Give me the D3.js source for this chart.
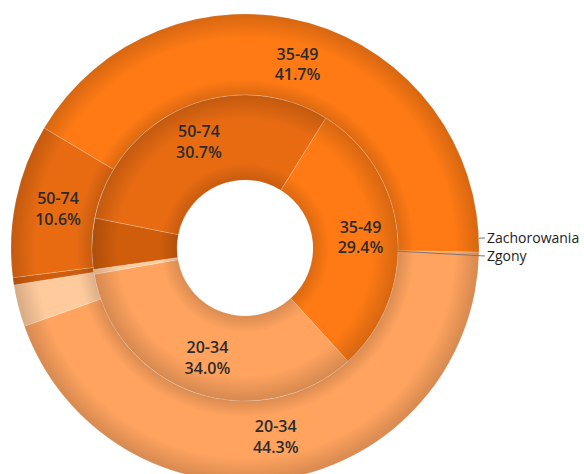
<!DOCTYPE html>
<html>
<head>
<meta charset="utf-8">
<script src="https://cdn.jsdelivr.net/npm/d3@7"></script>
<style>
  body { margin: 0; background: #fff; }
  svg text { font-family: "Open Sans", sans-serif; }
</style>
</head>
<body>
<div id="chart"></div>
<script>
// categories in drawing order (clockwise)
var ages = ["20-34", "0-19", "75+", "50-74", "35-49"];
var zachorowania = [44.3, 2.9, 0.5, 10.6, 41.7];
var zgony = [34.0, 0.5, 5.4, 30.7, 29.4];
var ringNames = ["Zachorowania", "Zgony"];

var width = 584, height = 474;
var cx = 245, cy = 248;
var colors = d3.scaleOrdinal()
  .domain(ages)
  .range(["#ffa35f", "#ffcb9d", "#cf5d0c", "#e86b12", "#ff7a14"]);

var rings = [
  { name: ringNames[0], values: zachorowania, r0: 153, r1: 234, rl: 191, start: 91 },
  { name: ringNames[1], values: zgony, r0: 68, r1: 153, rl: 116, start: 137.7 }
];

var svg = d3.select("#chart").append("svg")
  .attr("width", width).attr("height", height);
var defs = svg.append("defs");
var g = svg.append("g").attr("transform", "translate(" + cx + "," + cy + ")");

rings.forEach(function(ring, k) {
  var data = ages.map(function(a, i) { return { age: a, value: ring.values[i] }; });
  var st = ring.start * Math.PI / 180;
  var pie = d3.pie().sort(null).value(function(d) { return d.value; })
    .startAngle(st).endAngle(st + 2 * Math.PI);
  var arc = d3.arc().innerRadius(ring.r0).outerRadius(ring.r1);
  var labelArc = d3.arc().innerRadius(ring.rl).outerRadius(ring.rl);
  var arcs = pie(data);

  // shading gradient for the ring (darker at edges)
  var f = ring.r0 / ring.r1;
  var grad = defs.append("radialGradient")
    .attr("id", "shade" + k)
    .attr("gradientUnits", "userSpaceOnUse")
    .attr("cx", 0).attr("cy", 0).attr("r", ring.r1);
  [[f, 0.14], [f + (1 - f) * 0.2, 0], [f + (1 - f) * 0.7, 0], [1, 0.16]].forEach(function(s) {
    grad.append("stop").attr("offset", s[0]).attr("stop-color", "#000").attr("stop-opacity", s[1]);
  });

  var rg = g.append("g").attr("class", "ring" + k);
  rg.selectAll("path.slice")
    .data(arcs)
    .enter()
    .append("path")
    .attr("class", "slice")
    .attr("d", arc)
    .attr("fill", function(d) { return colors(d.data.age); })
    .attr("stroke", "rgba(255,255,255,0.35)")
    .attr("stroke-width", 0.6);

  rg.selectAll("path.shade")
    .data(arcs)
    .enter()
    .append("path")
    .attr("class", "shade")
    .attr("d", arc)
    .attr("fill", "url(#shade" + k + ")")
    .style("pointer-events", "none");

  var lab = rg.selectAll("text")
    .data(arcs.filter(function(d) { return d.data.value > 10; }))
    .enter()
    .append("text")
    .attr("transform", function(d) { return "translate(" + labelArc.centroid(d) + ")"; })
    .attr("text-anchor", "middle")
    .attr("fill", "#2b2b2b")
    .attr("font-size", 16)
    .attr("font-weight", 600);
  lab.append("tspan").attr("x", 0).attr("dy", "-0.3em").text(function(d) { return d.data.age; });
  lab.append("tspan").attr("x", 0).attr("dy", "1.3em").text(function(d) { return d.data.value.toFixed(1) + "%"; });
});

// ring name callouts
var labelX = 487;
var calls = [
  { name: ringNames[0], r: 234, angle: 87.6, y: 238 },
  { name: ringNames[1], r: 153, angle: 91.2, y: 256 }
];
calls.forEach(function(c) {
  var a = c.angle * Math.PI / 180;
  var x0 = c.r * Math.sin(a), y0 = -c.r * Math.cos(a);
  g.append("line")
    .attr("x1", x0).attr("y1", y0)
    .attr("x2", labelX - cx - 2).attr("y2", c.y - cy)
    .attr("stroke", "#777").attr("stroke-width", 1);
  svg.append("text")
    .attr("x", labelX).attr("y", c.y)
    .attr("dy", "0.35em")
    .attr("font-size", 14)
    .attr("fill", "#222")
    .text(c.name);
});
</script>
</body>
</html>
